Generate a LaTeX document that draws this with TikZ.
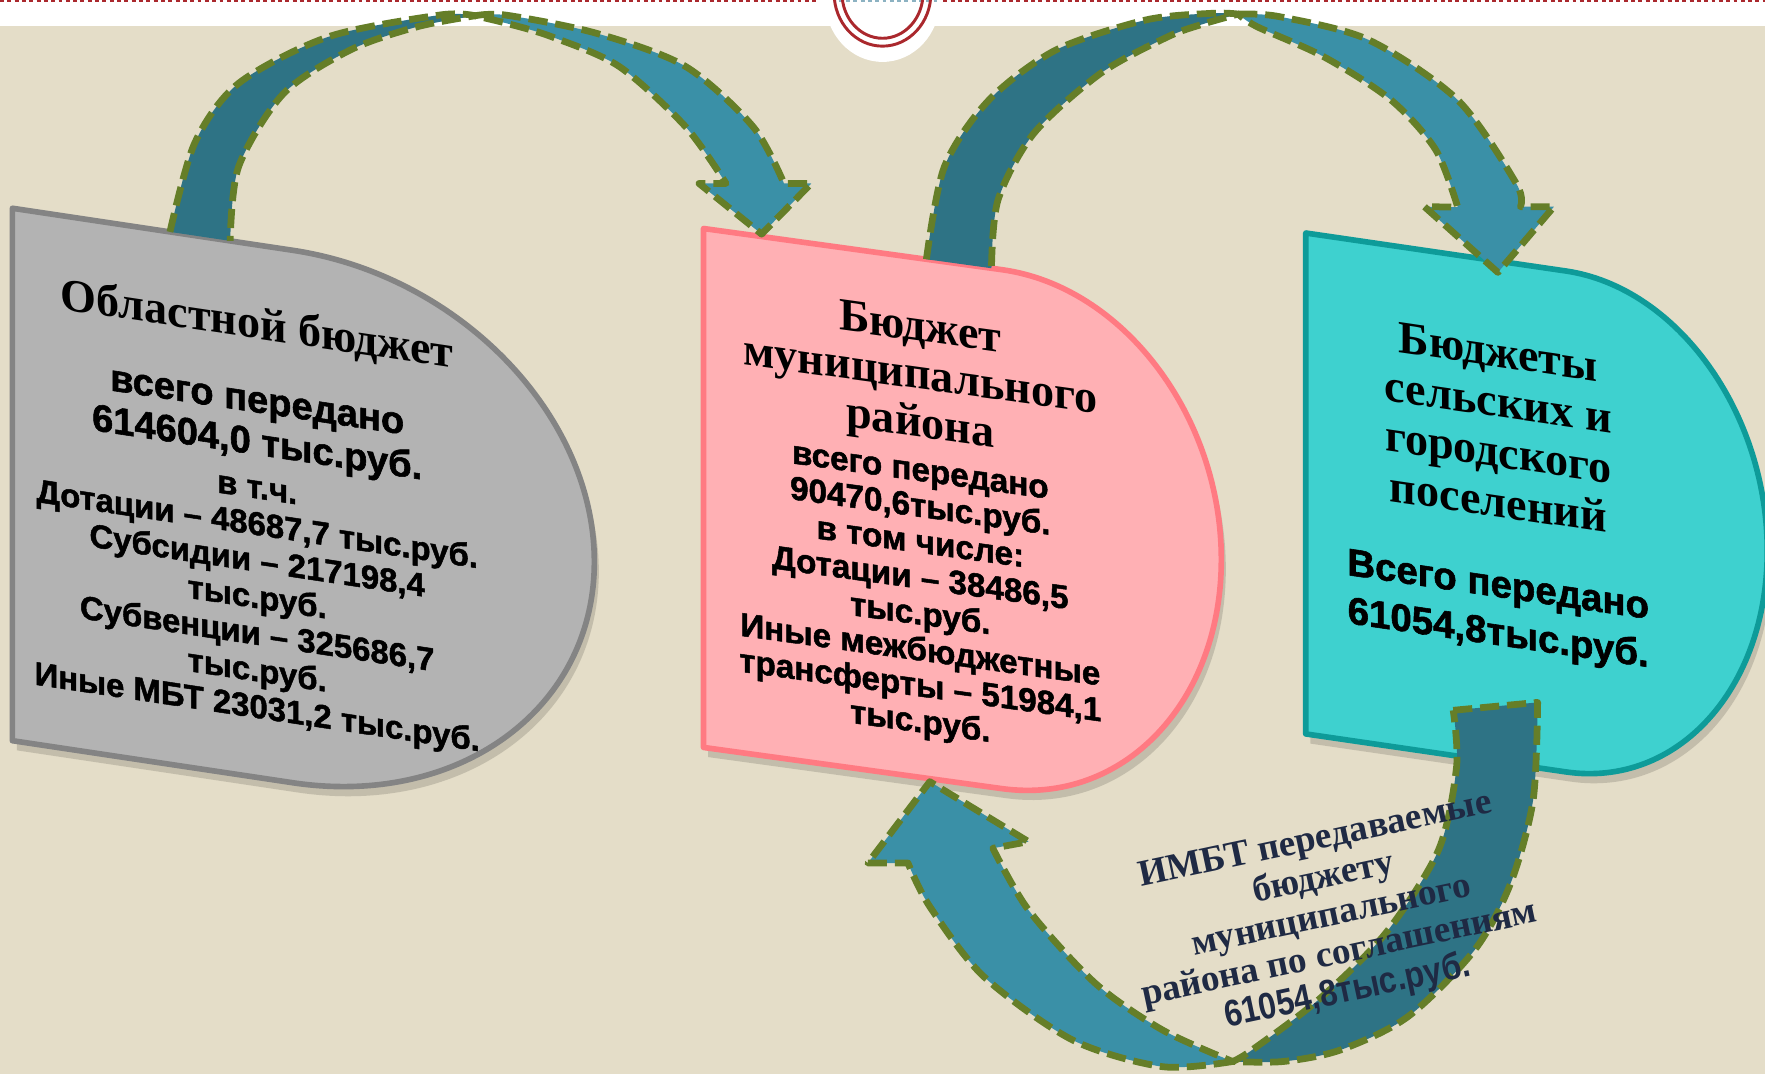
\documentclass[tikz,border=0pt]{standalone}
\usepackage{fontspec}
\setmainfont{Liberation Serif}
\newfontfamily\heavysans{Liberation Sans}[BoldFeatures={FakeBold=1.5}]
\newfontfamily\narrowsans{Liberation Sans}[FakeStretch=0.86]
\definecolor{bg}{RGB}{228,221,200}
\definecolor{darkteal}{RGB}{46,115,133}
\definecolor{lightteal}{RGB}{58,144,167}
\definecolor{olive}{RGB}{101,126,40}
\definecolor{grayfill}{RGB}{179,179,179}
\definecolor{grayedge}{RGB}{132,132,132}
\definecolor{pinkfill}{RGB}{255,176,180}
\definecolor{pinkedge}{RGB}{255,122,130}
\definecolor{cyanfill}{RGB}{62,209,207}
\definecolor{cyanedge}{RGB}{14,155,153}
\definecolor{navy}{RGB}{31,42,68}
\definecolor{ringred}{RGB}{170,40,45}
\definecolor{dotblue}{RGB}{140,178,194}
\begin{document}
\begin{tikzpicture}[x=1pt,y=-1pt,
  txt/.style={inner sep=0pt, transform shape, align=center, anchor=center},
  ttl/.style={txt, font=\fontsize{41}{#1}\selectfont\bfseries},
  heavy/.style 2 args={txt, font=\heavysans\bfseries\fontsize{#1}{#2}\selectfont},
  dashborder/.style={draw=olive, line width=6pt, dash pattern=on 17pt off 7pt, line join=round},
  shapeshadow/.style={fill=black, opacity=0.14},
  shapeedge/.style={line width=5pt, line join=round}
]
\useasboundingbox (0,0) rectangle (1568,954);
% background
\fill[white] (0,0) rectangle (1568,23);
\fill[bg] (0,23) rectangle (1568,954);
\draw[ringred, line width=2pt, dash pattern=on 3.5pt off 3pt] (0,1) -- (725,1);
\draw[ringred, line width=2pt, dash pattern=on 3.5pt off 3pt] (838,1) -- (1568,1);
\fill[white] (784,0) ellipse [x radius=51pt, y radius=55pt];
\draw[dotblue, line width=2pt, dash pattern=on 3.5pt off 3pt] (745,1) -- (832,1);
\draw[ringred, line width=2.6pt] (784,-6) ellipse [x radius=43pt, y radius=47pt];
\draw[ringred, line width=2.6pt] (784,-6) ellipse [x radius=36pt, y radius=40pt];

% shape A
\begin{scope}[shift={(11,0)}, yslant=-0.15]
  \fill[shapeshadow] (4,193) -- (253,193) arc[start angle=90, end angle=-90, x radius=268pt, y radius=236.5pt] -- (4,666) -- cycle;
  \fill[grayfill] (0,185) -- (249,185) arc[start angle=90, end angle=-90, x radius=268pt, y radius=236.5pt] -- (0,658) -- cycle;
  \draw[grayedge, shapeedge] (0,185) -- (249,185) arc[start angle=90, end angle=-90, x radius=268pt, y radius=236.5pt] -- (0,658) -- cycle;
  \node[ttl=44] (a1) at (217.5,257) {Областной бюджет};
  \node[heavy={33.8}{37.7}] (a2) at (217.5,347) {всего передано\\614604,0 тыс.руб.};
  \node[heavy={29.2}{32.5}] (a3) at (217.5,503) {в т.ч.\\Дотации – 48687,7 тыс.руб.\\Субсидии – 217198,4\\тыс.руб.\\Субвенции – 325686,7\\тыс.руб.\\Иные МБТ 23031,2 тыс.руб.};
\end{scope}

% shape B
\begin{scope}[shift={(625,0)}, yslant=-0.138]
  \fill[shapeshadow] (4,211) -- (269,211) arc[start angle=90, end angle=-90, x radius=195pt, y radius=230.5pt] -- (4,672) -- cycle;
  \fill[pinkfill] (0,203) -- (265,203) arc[start angle=90, end angle=-90, x radius=195pt, y radius=230.5pt] -- (0,664) -- cycle;
  \draw[pinkedge, shapeedge] (0,203) -- (265,203) arc[start angle=90, end angle=-90, x radius=195pt, y radius=230.5pt] -- (0,664) -- cycle;
  \node[ttl=42.7] (b1) at (192.6,310) {Бюджет\\муниципального\\района};
  \node[heavy={29.5}{31.9}] (b2) at (192.6,507.5) {всего передано\\90470,6тыс.руб.\\в том числе:\\Дотации – 38486,5\\тыс.руб.\\Иные межбюджетные\\трансферты – 51984,1\\тыс.руб.};
\end{scope}

% shape C
\begin{scope}[shift={(1160,0)}, yslant=-0.146]
  \fill[shapeshadow] (4,215) -- (235,215) arc[start angle=90, end angle=-90, x radius=179pt, y radius=222.5pt] -- (4,660) -- cycle;
  \fill[cyanfill] (0,207) -- (231,207) arc[start angle=90, end angle=-90, x radius=179pt, y radius=222.5pt] -- (0,652) -- cycle;
  \draw[cyanedge, shapeedge] (0,207) -- (231,207) arc[start angle=90, end angle=-90, x radius=179pt, y radius=222.5pt] -- (0,652) -- cycle;
  \node[ttl=44.4] (c1) at (171,354.4) {Бюджеты\\сельских и\\городского\\поселений};
  \node[heavy={34.1}{42.8}] (c2) at (171,518.6) {Всего передано\\61054,8тыс.руб.};
\end{scope}

% arrow 1 (A -> B)
\fill[darkteal] plot[smooth] coordinates {(151,206) (173,127) (212,74) (292,32.6) (391,13.3) (422,14)}
  -- plot[smooth] coordinates {(422,14) (371,23.7) (312,44) (252,83) (212,148) (204.5,214)} -- cycle;
\draw[dashborder] plot[smooth] coordinates {(151,206) (173,127) (212,74) (292,32.6) (391,13.3) (422,14)}
  -- plot[smooth] coordinates {(422,14) (371,23.7) (312,44) (252,83) (212,148) (204.5,214)};
\path[fill=lightteal, dashborder] plot[smooth] coordinates {(422,14) (450,13.5) (530,29.6) (609,59) (669,112.5) (696.5,163)}
  -- (720.7,163) -- (676.6,208) -- (621,163) -- (645,163)
  -- plot[smooth] coordinates {(645,163) (609,112.5) (550,59) (490,32.6) (450,20.7) (422,14)} -- cycle;

% arrow 2 (B -> C)
\fill[darkteal] plot[smooth] coordinates {(823,230.3) (839,148) (878.6,88.8) (938,44.4) (1017.6,17.8) (1077,11.8) (1100,12.5)}
  -- plot[smooth] coordinates {(1100,12.5) (1070,21) (1037.6,32.6) (978,65) (918.5,118.4) (886.6,177.7) (880.8,238.3)} -- cycle;
\draw[dashborder] plot[smooth] coordinates {(823,230.3) (839,148) (878.6,88.8) (938,44.4) (1017.6,17.8) (1077,11.8) (1100,12.5)}
  -- plot[smooth] coordinates {(1100,12.5) (1070,21) (1037.6,32.6) (978,65) (918.5,118.4) (886.6,177.7) (880.8,238.3)};
\path[fill=lightteal, dashborder] plot[smooth] coordinates {(1100,12.5) (1136.7,14.8) (1216,35.5) (1295,88.8) (1347,163) (1350.7,183.6)}
  -- (1380.5,183.6) -- (1330.7,242) -- (1265.4,183.6) -- (1295,184)
  -- plot[smooth] coordinates {(1295,184) (1275.4,133) (1235.7,88.8) (1176,50.4) (1116.7,23.7) (1100,12.5)} -- cycle;

% arrow 3 (C -> B)
\path[fill=darkteal, dashborder] (1291,631) -- (1366,624)
  -- plot[smooth] coordinates {(1366,624) (1362,710.7) (1342,784.7) (1310,844) (1251,903) (1191,932.7) (1140,943) (1095,943)}
  -- plot[smooth] coordinates {(1095,943) (1112,933) (1171.5,888) (1231,829) (1278,755) (1294,681) (1291,631)} -- cycle;
\path[fill=lightteal, dashborder] plot[smooth] coordinates {(1095,943) (1032.7,947.6) (953,924) (874,867.6) (826,805.4) (806.6,766.7)}
  -- (771,766.7) -- (826,694.4) -- (913.7,747.7) -- (882,753.6)
  -- plot[smooth] coordinates {(882,753.6) (913.7,808.4) (973,873.5) (1032.7,915) (1095,943)} -- cycle;

\node[inner sep=0pt, align=center, rotate=12, text=navy, font=\fontsize{33}{34.5}\selectfont\bfseries] (lbl) at (1183,815)
  {ИМБТ передаваемые\\бюджету\\муниципального\\района по соглашениям\\{\narrowsans\bfseries 61054,8тыс.руб.}};
\end{tikzpicture}
\end{document}
